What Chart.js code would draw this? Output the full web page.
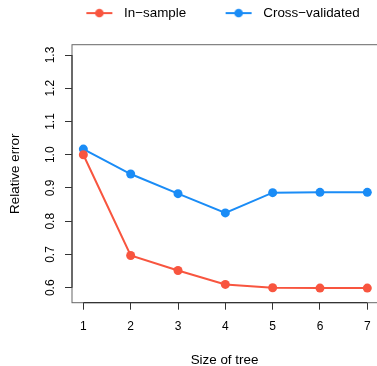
<!DOCTYPE html>
<html>
<head>
<meta charset="utf-8">
<script src="https://cdn.jsdelivr.net/npm/chart.js@4.4.1/dist/chart.umd.min.js"></script>
<style>
  html, body { margin: 0; padding: 0; background: #fff; }
</style>
</head>
<body>
<canvas id="treeChart" width="377" height="366"></canvas>
<script>
// values
const treeSizes = [1, 2, 3, 4, 5, 6, 7];
const inSampleError = [1.0, 0.697, 0.652, 0.610, 0.600, 0.599, 0.599];
const crossValError = [1.017, 0.942, 0.883, 0.825, 0.886, 0.887, 0.887];
const seriesNames = ["In\u2212sample", "Cross\u2212validated"];

const xTicks = [1, 2, 3, 4, 5, 6, 7];
const yTicks = [0.6, 0.7, 0.8, 0.9, 1.0, 1.1, 1.2, 1.3];
const yTickLabels = ["0.6", "0.7", "0.8", "0.9", "1.0", "1.1", "1.2", "1.3"];

const RED = "#f8553f";
const BLUE = "#1a8cf6";
const LEGEND_DX = 18;

Chart.defaults.font.family = "'Liberation Sans', Arial, Helvetica, sans-serif";
Chart.defaults.color = "#000";

// R style legend key: a short line with a dot in the middle
function legendIcon(color) {
  const c = document.createElement("canvas");
  c.width = 56;
  c.height = 10;
  const g = c.getContext("2d");
  g.strokeStyle = color;
  g.lineWidth = 2;
  g.beginPath();
  g.moveTo(29, 5);
  g.lineTo(55, 5);
  g.stroke();
  g.fillStyle = color;
  g.beginPath();
  g.arc(42, 5, 4.3, 0, Math.PI * 2);
  g.fill();
  return c;
}
const legendIcons = [legendIcon(RED), legendIcon(BLUE)];

// legend sits a bit right of centre in the reference
const legendNudge = {
  id: "legendNudge",
  afterLayout(chart) {
    chart.legend.left += LEGEND_DX;
    chart.legend.right += LEGEND_DX;
  }
};

// box around the plot plus the darker axis lines between first and last tick
const framePlugin = {
  id: "frame",
  beforeDatasetsDraw(chart) {
    const { ctx, chartArea: a, scales: { x, y } } = chart;
    ctx.save();
    ctx.strokeStyle = "#666";
    ctx.lineWidth = 1;
    ctx.strokeRect(a.left, a.top, a.right - a.left + 5, a.bottom - a.top);
    ctx.strokeStyle = "#222";
    ctx.beginPath();
    ctx.moveTo(a.left, y.getPixelForValue(yTicks[0]));
    ctx.lineTo(a.left, y.getPixelForValue(yTicks[yTicks.length - 1]));
    ctx.moveTo(x.getPixelForValue(xTicks[0]), a.bottom);
    ctx.lineTo(x.getPixelForValue(xTicks[xTicks.length - 1]), a.bottom);
    ctx.stroke();
    ctx.restore();
  }
};

const toPoints = (vals) => vals.map((v, i) => ({ x: treeSizes[i], y: v }));

const chart = new Chart(document.getElementById("treeChart"), {
  type: "line",
  data: {
    datasets: [
      {
        label: seriesNames[0],
        data: toPoints(inSampleError),
        borderColor: RED,
        backgroundColor: RED,
        borderWidth: 2,
        pointRadius: 4.5,
        pointBorderWidth: 0,
        tension: 0,
        clip: false
      },
      {
        label: seriesNames[1],
        data: toPoints(crossValError),
        borderColor: BLUE,
        backgroundColor: BLUE,
        borderWidth: 2,
        pointRadius: 4.5,
        pointBorderWidth: 0,
        tension: 0,
        clip: false
      }
    ]
  },
  options: {
    responsive: false,
    animation: false,
    layout: { autoPadding: false, padding: { left: 0, right: 0, top: 0, bottom: -2 } },
    plugins: {
      tooltip: { enabled: false },
      legend: {
        position: "top",
        align: "center",
        labels: {
          usePointStyle: true,
          pointStyleWidth: 64,
          padding: 6.4,
          font: { size: 13.4 },
          color: "#000",
          generateLabels: (c) =>
            Chart.defaults.plugins.legend.labels.generateLabels(c).map((it, i) => ({
              ...it,
              pointStyle: legendIcons[i]
            }))
        }
      },
      // empty title used as a spacer between legend and plot box
      title: {
        display: true,
        text: "",
        weight: 100,
        padding: 0,
        font: { size: 14.9, lineHeight: 1 }
      }
    },
    scales: {
      x: {
        type: "linear",
        min: 0.76,
        max: 7.205,
        afterBuildTicks: (s) => { s.ticks = xTicks.map((v) => ({ value: v })); },
        afterFit: (s) => { s.height = 65.3; s.paddingLeft = 0; s.paddingRight = 0; },
        grid: { drawOnChartArea: false, drawTicks: true, tickLength: 7, color: "#333", tickColor: "#333", tickWidth: 1 },
        border: { display: false },
        ticks: {
          font: { size: 12 },
          padding: 10.2,
          maxRotation: 0,
          autoSkip: false,
          callback: (v, i) => String(xTicks[i])
        },
        title: { display: true, text: "Size of tree", font: { size: 13.4 }, padding: { top: 0, bottom: 0 } }
      },
      y: {
        type: "linear",
        min: 0.555,
        max: 1.331,
        afterBuildTicks: (s) => { s.ticks = yTicks.map((v) => ({ value: v })); },
        afterFit: (s) => { s.width = 72; s.paddingTop = 0; s.paddingBottom = 0; },
        grid: { drawOnChartArea: false, drawTicks: true, tickLength: 7, color: "#333", tickColor: "#333", tickWidth: 1 },
        border: { display: false },
        ticks: {
          font: { size: 12 },
          minRotation: 90,
          maxRotation: 90,
          crossAlign: "center",
          padding: 5.7,
          autoSkip: false,
          callback: (v, i) => yTickLabels[i]
        },
        title: { display: true, text: "Relative error", font: { size: 13.4 }, padding: { top: 7.5, bottom: 0 } }
      }
    }
  },
  plugins: [framePlugin, legendNudge]
});
</script>
</body>
</html>
